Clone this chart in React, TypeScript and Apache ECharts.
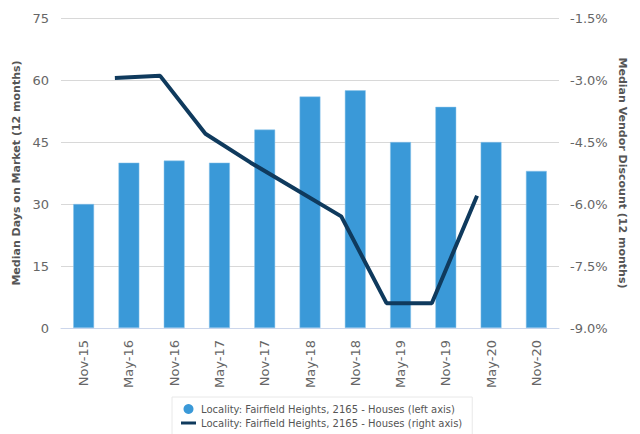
import React, { useEffect, useRef } from "react";
import * as echarts from "echarts";

const categories = ["Nov-15", "May-16", "Nov-16", "May-17", "Nov-17", "May-18", "Nov-18", "May-19", "Nov-19", "May-20", "Nov-20"];
const daysOnMarket = [30, 40, 40.5, 40, 48, 56, 57.5, 45, 53.5, 45, 38];
const vendorDiscount: (number | null)[] = [null, -2.95, -2.9, -4.3, -5.0, -5.65, -6.3, -8.4, -8.4, -5.8, null];
const leftTicks = { min: 0, max: 75, interval: 15 };
const rightTicks = { min: -9, max: -1.5, interval: 1.5 };
const barName = "Locality: Fairfield Heights, 2165 - Houses (left axis)";
const lineName = "Locality: Fairfield Heights, 2165 - Houses (right axis)";
const leftTitle = "Median Days on Market (12 months)";
const rightTitle = "Median Vendor Discount (12 months)";
const LINE_SHIFT = -0.31;

const FONT = "DejaVu Sans";

export default function App() {
  const ref = useRef<HTMLDivElement>(null);
  useEffect(() => {
    if (!ref.current) return;
    const chart = echarts.init(ref.current, null, { renderer: "svg" });
    const lineData = vendorDiscount
      .map((v, i) => (v === null ? null : [i + LINE_SHIFT, v]))
      .filter((d) => d !== null);
    chart.setOption({
      animation: false,
      textStyle: { fontFamily: FONT },
      grid: { left: 61, right: 81, top: 18, bottom: 106 },
      legend: {
        orient: "vertical",
        left: 172,
        top: 397,
        height: 80,
        padding: [7, 10, 12, 9],
        itemGap: 4,
        itemWidth: 15,
        itemHeight: 10,
        borderColor: "#e8e8e8",
        borderWidth: 1,
        textStyle: { fontSize: 10, color: "#555", fontFamily: FONT },
        data: [
          { name: barName, icon: "circle", itemStyle: { borderWidth: 0, color: "#3a99d8" } },
          { name: lineName, icon: "path://M0,0 M15,10 M0,3.5 L15,3.5 L15,6.5 L0,6.5 Z", itemStyle: { color: "#0f3a5d", borderWidth: 0 } },
        ],
      },
      graphic: [
        {
          type: "text",
          x: 622,
          y: 173,
          rotation: -Math.PI / 2,
          style: {
            text: rightTitle,
            fontSize: 11,
            fontWeight: "bold",
            fill: "#555",
            fontFamily: FONT,
            align: "center",
            verticalAlign: "middle",
          },
        },
      ],
      xAxis: [
        {
          type: "category",
          data: categories,
          axisLine: { lineStyle: { color: "#ccd6eb" } },
          axisTick: { alignWithLabel: true, length: 7, lineStyle: { color: "#ccd6eb" } },
          axisLabel: { rotate: 90, fontSize: 13, color: "#666", margin: 12, fontFamily: FONT },
          splitLine: { show: false },
        },
        {
          type: "value",
          min: -0.5,
          max: categories.length - 0.5,
          show: false,
          position: "bottom",
        },
      ],
      yAxis: [
        {
          type: "value",
          min: leftTicks.min,
          max: leftTicks.max,
          interval: leftTicks.interval,
          name: leftTitle,
          nameLocation: "middle",
          nameGap: 27,
          nameRotate: 90,
          nameTextStyle: { fontSize: 11, fontWeight: "bold", color: "#555", fontFamily: FONT },
          axisLabel: { fontSize: 13, color: "#666", margin: 12, fontFamily: FONT },
          splitLine: { lineStyle: { color: "#d8d8d8" } },
          axisLine: { show: false },
          axisTick: { show: false },
        },
        {
          type: "value",
          min: rightTicks.min,
          max: rightTicks.max,
          interval: rightTicks.interval,
          position: "right",
          axisLabel: {
            fontSize: 13,
            color: "#666",
            margin: 11,
            fontFamily: FONT,
            formatter: (v: number) => v.toFixed(1) + "%",
          },
          splitLine: { show: false },
          axisLine: { show: false },
          axisTick: { show: false },
        },
      ],
      series: [
        {
          name: barName,
          type: "bar",
          data: daysOnMarket,
          xAxisIndex: 0,
          yAxisIndex: 0,
          barWidth: "46%",
          itemStyle: { color: "#3a99d8", borderColor: "#8cc5ea", borderWidth: 0.5 },
        },
        {
          name: lineName,
          type: "line",
          data: lineData,
          xAxisIndex: 1,
          yAxisIndex: 1,
          symbol: "none",
          lineStyle: { color: "#0f3a5d", width: 4 },
          itemStyle: { color: "#0f3a5d" },
        },
      ],
    });
    return () => chart.dispose();
  }, []);
  return (
    <div
      ref={ref}
      style={{ position: "absolute", left: 0, top: 0, width: 640, height: 434 }}
    />
  );
}
